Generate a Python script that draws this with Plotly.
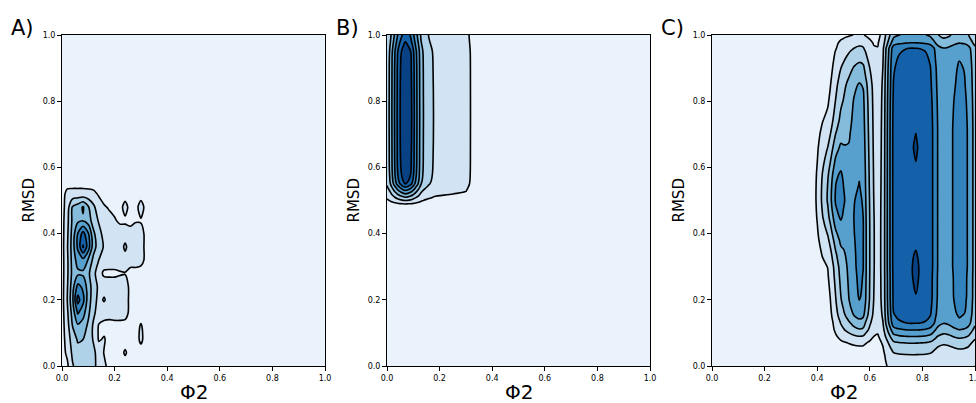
import numpy as np
import plotly.graph_objects as go

# ---------------- Panel A : density grid (contour level units) ----------------
xA = [0.0, 0.02, 0.04, 0.06, 0.08, 0.10, 0.12, 0.14, 0.16, 0.18, 0.20, 0.22, 0.24, 0.26, 0.28, 0.30, 0.32, 0.34, 0.40, 1.0]
yA = [0.0, 0.04, 0.08, 0.12, 0.16, 0.20, 0.24, 0.28, 0.32, 0.36, 0.40, 0.44, 0.48, 0.52, 0.56, 0.60, 1.0]
zA = [
    [0.0, 0.3, 1.4, 1.9, 2.0, 1.9, 1.7, 1.2, 0.7, 0.2, 0.1, 0.1, 0.1, 0.0, 0.0, 0.0, 0.0, 0.0, 0.0, 0.0],
    [0.1, 0.7, 1.7, 2.2, 2.3, 2.1, 1.7, 1.1, 0.45, 0.2, 0.1, 0.2, 0.6, 0.2, 0.1, 0.1, 0.0, 0.0, 0.0, 0.0],
    [0.1, 0.9, 2.0, 2.6, 2.5, 2.0, 1.4, 0.4, 0.6, 0.1, 0.1, 0.1, 0.2, 0.1, 0.1, 0.7, 0.1, 0.0, 0.0, 0.0],
    [0.1, 1.1, 2.5, 3.3, 3.0, 2.3, 1.3, 0.4, 0.2, 0.1, 0.1, 0.1, 0.1, 0.1, 0.1, 0.6, 0.1, 0.0, 0.0, 0.0],
    [0.1, 1.3, 2.9, 4.6, 3.9, 2.7, 1.7, 1.0, 0.9, 0.9, 1.0, 1.0, 0.9, 0.2, 0.1, 0.1, 0.0, 0.0, 0.0, 0.0],
    [0.1, 1.5, 3.3, 5.9, 4.8, 3.0, 1.9, 1.2, 1.6, 1.1, 1.0, 1.0, 1.0, 0.2, 0.1, 0.0, 0.0, 0.0, 0.0, 0.0],
    [0.1, 1.4, 3.1, 4.8, 4.3, 3.0, 2.0, 1.3, 1.1, 1.0, 1.0, 1.0, 1.0, 0.2, 0.1, 0.0, 0.0, 0.0, 0.0, 0.0],
    [0.1, 1.3, 2.8, 3.3, 3.3, 2.7, 1.8, 0.9, 0.3, 0.3, 0.3, 0.4, 0.45, 0.1, 0.1, 0.0, 0.0, 0.0, 0.0, 0.0],
    [0.1, 1.3, 2.9, 3.9, 4.2, 3.4, 2.2, 1.5, 1.1, 1.0, 1.0, 1.0, 1.1, 1.0, 1.0, 0.9, 0.2, 0.0, 0.0, 0.0],
    [0.1, 1.4, 3.0, 4.7, 6.6, 5.0, 2.9, 2.0, 1.4, 1.1, 1.0, 1.0, 1.7, 1.0, 1.0, 0.9, 0.2, 0.0, 0.0, 0.0],
    [0.1, 1.3, 2.9, 4.5, 5.9, 4.6, 2.7, 1.8, 1.2, 1.0, 1.0, 1.0, 1.0, 1.0, 1.0, 0.9, 0.2, 0.0, 0.0, 0.0],
    [0.1, 1.2, 2.7, 3.3, 3.4, 3.0, 2.0, 1.4, 0.9, 0.8, 0.6, 0.3, 0.3, 0.1, 0.4, 0.4, 0.1, 0.0, 0.0, 0.0],
    [0.1, 1.0, 2.6, 3.0, 3.6, 2.6, 1.7, 0.9, 0.6, 0.4, 0.2, 0.1, 0.9, 0.1, 0.1, 1.0, 0.1, 0.0, 0.0, 0.0],
    [0.1, 0.8, 0.85, 0.85, 0.85, 0.8, 0.7, 0.4, 0.1, 0.0, 0.0, 0.0, 0.0, 0.0, 0.0, 0.0, 0.0, 0.0, 0.0, 0.0],
    [0.0] * 20,
    [0.0] * 20,
    [0.0] * 20,
]

# ---------------- Panel B : Phi2 profile and RMSD profile ----------------
xB = [0.0, 0.01, 0.02, 0.03, 0.04, 0.05, 0.07, 0.09, 0.10, 0.11, 0.12, 0.13, 0.14, 0.16, 0.18, 0.25, 0.30, 0.33, 0.40, 1.0]
phiB = [1.9, 2.6, 3.6, 4.6, 5.6, 6.4, 7.6, 6.7, 5.8, 4.8, 3.9, 2.9, 2.4, 1.8, 1.4, 1.1, 0.9, 0.2, 0.0, 0.0]
yB = [0.0, 0.45, 0.48, 0.49, 0.50, 0.51, 0.52, 0.53, 0.54, 0.55, 0.56, 0.58, 0.62, 0.90, 0.95, 0.97, 0.98, 1.0]
rmsdB = [0.0, 0.0, 0.01, 0.07, 0.2, 0.33, 0.46, 0.59, 0.72, 0.86, 0.92, 0.97, 1.0, 1.0, 0.97, 0.9, 0.86, 0.8]

# ---------------- Panel C : component profiles ----------------
xC = [0.0, 0.36, 0.38, 0.40, 0.42, 0.44, 0.45, 0.46, 0.47, 0.48, 0.49, 0.50, 0.51, 0.52, 0.54, 0.56,
      0.575, 0.585, 0.60, 0.615, 0.63, 0.64, 0.65, 0.66, 0.67, 0.68, 0.69, 0.71, 0.74, 0.76, 0.775,
      0.79, 0.81, 0.83, 0.84, 0.85, 0.86, 0.88, 0.90, 0.92, 0.94, 0.96, 0.975, 0.99, 1.0]
phiC_left = [0, 0, 0, 0.65, 1.7, 2.6, 2.95, 3.2, 3.4, 3.1, 2.7, 1.95, 1.3, 0.7, 0.3, 0.1, 0.05] + [0] * 28
phiC_mid = [0, 0, 0, 0, 0, 0, 0.3, 0.75, 1.25, 1.8, 2.35, 2.75, 3.15, 3.55, 4.3, 4.7, 4.5, 3.6, 2.5, 1.5,
            0.9, 0.7, 0.5, 0.35, 0.2, 0.12, 0.08] + [0] * 18
phiC_right = [0] * 19 + [0.05, 0.25, 0.75, 1.3, 2.55, 3.65, 4.7, 5.7, 6.1, 6.3, 6.35, 6.33, 6.3, 6.2,
                         5.9, 5.45, 4.9, 4.4, 4.05, 4.2, 4.6, 4.9, 4.75, 4.4, 3.6, 3.1]
phiC_core = [0] * 29 + [0.15, 0.5, 0.15] + [0] * 13

yC = [0.0, 0.03, 0.05, 0.07, 0.09, 0.10, 0.11, 0.13, 0.15, 0.16, 0.20, 0.21, 0.27, 0.30, 0.34, 0.38,
      0.40, 0.45, 0.50, 0.55, 0.58, 0.60, 0.61, 0.65, 0.66, 0.70, 0.71, 0.74, 0.80, 0.85, 0.90, 0.95,
      0.96, 0.975, 0.99, 1.0]
rmsdC_left = [0] * 8 + [0.02, 0.03, 0.07, 0.08, 0.16, 0.2, 0.33, 0.5, 0.6, 0.85, 1.0, 0.97, 0.9, 0.82,
                        0.78, 0.62, 0.58, 0.42, 0.38, 0.28, 0.15, 0.08, 0.03, 0.01] + [0] * 4
rmsdC_mid = [0, 0.02, 0.06, 0.15, 0.32, 0.42, 0.52, 0.66, 0.8, 0.85, 0.96, 0.97, 0.99, 1.0, 1.0, 1.0,
             1.0, 0.99, 0.97, 0.94, 0.93, 0.92, 0.915, 0.895, 0.89, 0.87, 0.865, 0.85, 0.82, 0.76,
             0.6, 0.4, 0.35, 0.28, 0.18, 0.12]
rmsdC_right = [0.16, 0.22, 0.3, 0.4, 0.56, 0.64, 0.72, 0.875, 0.93, 0.95, 0.98, 0.985, 0.99] + [1.0] * 14 + \
              [0.995, 0.98, 0.96, 0.94, 0.89, 0.87, 0.72, 0.62, 0.57]
rmsdC_core = [0] * 10 + [0.3, 0.45, 1.0, 0.8, 0.45, 0, 0, 0, 0, 0, 0, 0.1, 0.3, 0.5, 0.55, 0.35, 0.3, 0] + [0] * 8

tick_vals = [0.0, 0.2, 0.4, 0.6, 0.8, 1.0]
tick_text = ["0.0", "0.2", "0.4", "0.6", "0.8", "1.0"]
panel_labels = ["A)", "B)", "C)"]
x_title = "Φ2"
y_title = "RMSD"

# grid tables built from the read profiles
zB = np.outer(rmsdB, phiB).tolist()
zC = (np.outer(rmsdC_left, phiC_left) + np.outer(rmsdC_mid, phiC_mid)
      + np.outer(rmsdC_right, phiC_right) + np.outer(rmsdC_core, phiC_core)).tolist()

band_colors = ["#eaf2fb", "#d2e3f3", "#b0d2e8", "#85bcdc", "#57a0ce", "#3282be", "#1561a9", "#084184"]
cscale = [[k / 7, c] for k, c in enumerate(band_colors)]

W, H = 976, 403
x_px = [(62, 325), (387, 650), (712, 975)]
y_top, y_bot = 35, 366
ydom = [(H - y_bot) / H, (H - y_top) / H]

fig = go.Figure()
panels = [(xA, yA, zA, 0.75), (xB, yB, zB, 1.0), (xC, yC, zC, 1.0)]
for i, (xx, yy, zz, sm) in enumerate(panels):
    sfx = "" if i == 0 else str(i + 1)
    fig.add_trace(go.Contour(
        x=xx, y=yy, z=zz, xaxis="x" + sfx, yaxis="y" + sfx,
        autocontour=False,
        contours=dict(start=0.5, end=6.5, size=1, coloring="fill", showlines=True),
        line=dict(color="black", width=1.6, smoothing=sm),
        colorscale=cscale, showscale=False, hoverinfo="skip"))

ax_common = dict(range=[0, 1], tickvals=tick_vals, ticktext=tick_text, ticks="outside", ticklen=4,
                 tickwidth=0.8, tickcolor="black", showline=True, mirror=True, linecolor="black",
                 linewidth=1, showgrid=False, zeroline=False, automargin=False,
                 ticklabeloverflow="allow",
                 tickfont=dict(family="DejaVu Sans", size=8, color="black"))
annotations = []
for i, (x0, x1) in enumerate(x_px):
    sfx = "" if i == 0 else str(i + 1)
    fig.layout["xaxis" + sfx] = dict(ax_common, domain=[x0 / W, x1 / W], anchor="y" + sfx)
    fig.layout["yaxis" + sfx] = dict(ax_common, domain=ydom, anchor="x" + sfx)
    annotations.append(dict(text=x_title, x=(x0 + x1) / 2 / W, y=(H - 392) / H, xref="paper", yref="paper",
                            xanchor="center", yanchor="middle", showarrow=False,
                            font=dict(family="DejaVu Sans", size=20, color="black")))
    annotations.append(dict(text=y_title, x=(x0 - 34) / W, y=(H - (y_top + y_bot) / 2) / H,
                            xref="paper", yref="paper", textangle=-90, xanchor="center", yanchor="middle",
                            showarrow=False, font=dict(family="DejaVu Sans", size=15, color="black")))
    annotations.append(dict(text=panel_labels[i], x=(x0 - 53) / W, y=(H - 28) / H, xref="paper", yref="paper",
                            xanchor="left", yanchor="middle", showarrow=False,
                            font=dict(family="DejaVu Sans", size=21, color="black")))

fig.update_layout(width=W, height=H, margin=dict(l=0, r=0, t=0, b=0), paper_bgcolor="white",
                  plot_bgcolor="white", showlegend=False, annotations=annotations)
fig.write_html("out.html")
